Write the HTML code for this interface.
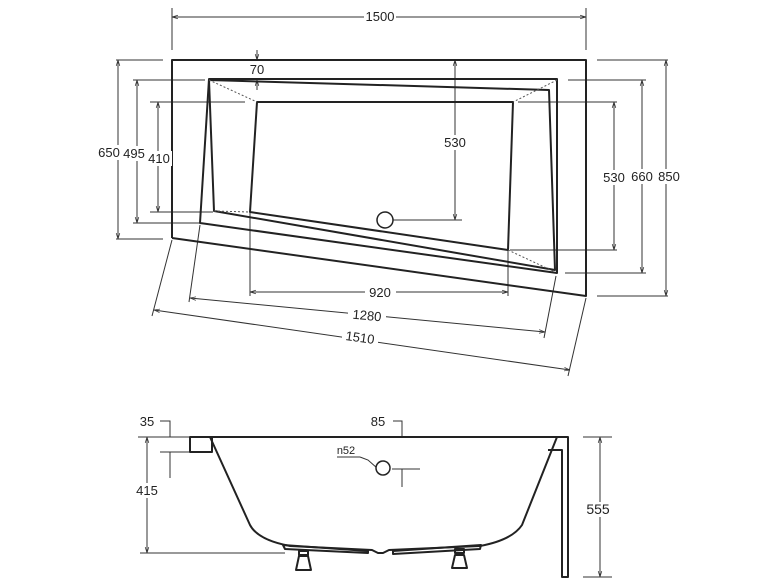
<!DOCTYPE html>
<html><head><style>body{margin:0;background:#fff}svg{display:block}text{font-family:"Liberation Sans",sans-serif;font-size:13px;fill:#222}</style></head>
<body>
<svg width="770" height="578" viewBox="0 0 770 578" xmlns="http://www.w3.org/2000/svg">
<defs><marker id="a" viewBox="0 0 10 10" refX="10" refY="5" markerWidth="6" markerHeight="6" orient="auto-start-reverse"><path d="M0,2L10,5L0,8" fill="none" stroke="#333" stroke-width="1.2"/></marker></defs>
<g stroke="#333" stroke-width="1" fill="none">
<line x1="172" y1="8" x2="172" y2="50"/><line x1="586" y1="8" x2="586" y2="50"/>
<line x1="172" y1="17" x2="586" y2="17" marker-start="url(#a)" marker-end="url(#a)"/>
<line x1="116" y1="60" x2="163" y2="60"/><line x1="116" y1="239" x2="163" y2="239"/>
<line x1="118" y1="60" x2="118" y2="239" marker-start="url(#a)" marker-end="url(#a)"/>
<line x1="133" y1="80" x2="205" y2="80"/><line x1="133" y1="223" x2="200" y2="223"/>
<line x1="137" y1="80" x2="137" y2="223" marker-start="url(#a)" marker-end="url(#a)"/>
<line x1="150" y1="102" x2="245" y2="102"/><line x1="150" y1="212" x2="213" y2="212"/>
<line x1="158" y1="102" x2="158" y2="212" marker-start="url(#a)" marker-end="url(#a)"/>
<line x1="597" y1="60" x2="668" y2="60"/><line x1="597" y1="296" x2="668" y2="296"/>
<line x1="666" y1="60" x2="666" y2="296" marker-start="url(#a)" marker-end="url(#a)"/>
<line x1="568" y1="80" x2="646" y2="80"/><line x1="565" y1="273" x2="646" y2="273"/>
<line x1="642" y1="80" x2="642" y2="273" marker-start="url(#a)" marker-end="url(#a)"/>
<line x1="518" y1="102" x2="617" y2="102"/><line x1="510" y1="250" x2="617" y2="250"/>
<line x1="614" y1="102" x2="614" y2="250" marker-start="url(#a)" marker-end="url(#a)"/>
<line x1="455" y1="60" x2="455" y2="220" marker-start="url(#a)" marker-end="url(#a)"/>
<line x1="393" y1="220" x2="462" y2="220"/>
<line x1="257" y1="50" x2="257" y2="60" marker-end="url(#a)"/>
<line x1="257" y1="90" x2="257" y2="80" marker-end="url(#a)"/>
<line x1="250" y1="212" x2="250" y2="296"/><line x1="508" y1="250" x2="508" y2="296"/>
<line x1="250" y1="292" x2="508" y2="292" marker-start="url(#a)" marker-end="url(#a)"/>
<line x1="200" y1="225" x2="189" y2="302"/><line x1="556" y1="276" x2="544" y2="338"/>
<line x1="190" y1="298" x2="545" y2="332" marker-start="url(#a)" marker-end="url(#a)"/>
<line x1="172" y1="240" x2="152" y2="316"/><line x1="586" y1="298" x2="568" y2="376"/>
<line x1="154" y1="310" x2="570" y2="370" marker-start="url(#a)" marker-end="url(#a)"/>
</g>
<g stroke="#222" stroke-width="2" fill="none" stroke-linejoin="round">
<polyline points="172,238 172,60 586,60 586,296 172,238"/>
<polygon points="209,79 557,79 557,273 200,223"/>
<polygon points="209,80 549,90 555,270 214,211"/>
<polygon points="257,102 513,102 508,250 250,212"/>
</g>
<g stroke="#555" stroke-width="1" stroke-dasharray="2,2" fill="none">
<line x1="209" y1="80" x2="257" y2="102"/><line x1="557" y1="80" x2="513" y2="102"/>
<line x1="214" y1="211" x2="250" y2="212"/><line x1="508" y1="250" x2="555" y2="272"/>
</g>
<circle cx="385" cy="220" r="8" fill="#fff" stroke="#222" stroke-width="1.5"/>
<g fill="#fff"><rect x="236" y="63" width="42" height="14"/><rect x="364" y="9" width="32" height="15"/><rect x="440" y="135" width="31" height="15"/>
<rect x="96" y="145" width="26" height="15"/><rect x="121" y="146" width="29" height="15"/><rect x="145" y="151" width="27" height="15"/>
<rect x="598" y="170" width="32" height="15"/><rect x="627" y="169" width="30" height="15"/><rect x="654" y="169" width="30" height="15"/>
<rect x="365" y="285" width="31" height="15"/><rect x="348" y="308" width="38" height="15"/><rect x="342" y="330" width="36" height="15"/></g>
<text x="257" y="74" text-anchor="middle">70</text>
<text x="380" y="21" text-anchor="middle">1500</text>
<text x="455" y="147" text-anchor="middle">530</text>
<text x="109" y="157" text-anchor="middle">650</text>
<text x="134" y="158" text-anchor="middle">495</text>
<text x="159" y="163" text-anchor="middle">410</text>
<text x="614" y="182" text-anchor="middle">530</text>
<text x="642" y="181" text-anchor="middle">660</text>
<text x="669" y="181" text-anchor="middle">850</text>
<text x="380" y="297" text-anchor="middle">920</text>
<text x="367" y="320" text-anchor="middle" transform="rotate(5.5 367 316)">1280</text>
<text x="360" y="342" text-anchor="middle" transform="rotate(8 360 338)">1510</text>
<g stroke="#333" stroke-width="1" fill="none">
<polyline points="160,421 170,421 170,437"/><line x1="170" y1="452" x2="170" y2="478"/>
<line x1="138" y1="437" x2="190" y2="437"/><line x1="160" y1="452" x2="190" y2="452"/>
<line x1="147" y1="437" x2="147" y2="553" marker-start="url(#a)" marker-end="url(#a)"/>
<line x1="140" y1="553" x2="285" y2="553"/>
<polyline points="393,421 402,421 402,437"/>
<line x1="392" y1="469" x2="420" y2="469"/><line x1="402" y1="469" x2="402" y2="487"/>
<line x1="583" y1="437" x2="612" y2="437"/><line x1="583" y1="577" x2="612" y2="577"/>
<line x1="600" y1="437" x2="600" y2="577" marker-start="url(#a)" marker-end="url(#a)"/>
<line x1="337" y1="457" x2="360" y2="457"/><polyline points="360,457 368,460 377,468"/>
</g>
<g stroke="#222" stroke-width="2" fill="none" stroke-linejoin="round">
<line x1="190" y1="437" x2="568" y2="437"/>
<rect x="190" y="437" width="22" height="15"/>
<path d="M210,437 L250,525 Q258,540 290,546 L372,550 L378,553 L383,553 L389,550 L480,546 Q512,540 522,525 L557,437"/>
<path d="M555,437 L568,437 L568,577 L562,577 L562,450 L548,450"/>
<polygon points="283,545 368,551 368,553 285,549"/><polygon points="393,551 481,545 480,549 393,554"/>
<rect x="299" y="551" width="9" height="4"/><polygon points="299,556 308,556 311,570 296,570"/>
<rect x="455" y="549" width="9" height="4"/><polygon points="455,555 464,555 467,568 452,568"/>
</g>
<circle cx="383" cy="468" r="7" fill="#fff" stroke="#222" stroke-width="1.5"/>
<rect x="135" y="483" width="25" height="15" fill="#fff"/><rect x="586" y="502" width="28" height="15" fill="#fff"/>
<text x="147" y="426" text-anchor="middle">35</text>
<text x="378" y="426" text-anchor="middle">85</text>
<text x="346" y="454" text-anchor="middle" style="font-size:11px">n52</text>
<text x="147" y="495" text-anchor="middle">415</text>
<text x="598" y="514" text-anchor="middle" style="font-size:14px">555</text>
</svg>
</body></html>
